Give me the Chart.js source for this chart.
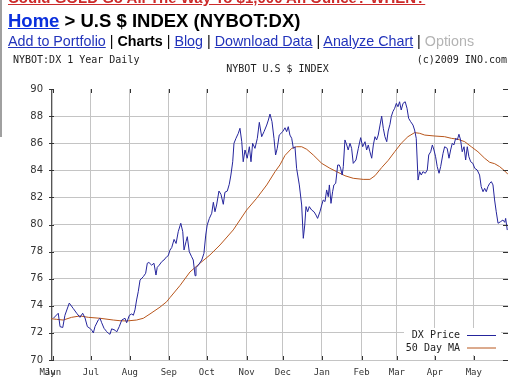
<!DOCTYPE html>
<html>
<head>
<meta charset="utf-8">
<script src="https://cdn.jsdelivr.net/npm/chart.js@4.4.1/dist/chart.umd.min.js"></script>
<style>
  html, body { margin: 0; padding: 0; background: #fff; width: 522px; height: 377px; overflow: hidden; }
  body { position: relative; font-family: "Liberation Sans", Arial, sans-serif; }
  #chart { position: absolute; left: 0; top: 0; }
  .txt { position: absolute; white-space: nowrap; z-index: 2; }
  .mono { font-family: "DejaVu Sans Mono", monospace; font-size: 10px; line-height: 10px; color: #222; }
  .lnk { color: #2233bb; text-decoration: underline; }
</style>
</head>
<body>
<div class="txt" style="left:8px;top:-10px;font-weight:bold;font-size:15px;line-height:15px;color:#cc2a2a;text-decoration:underline;">Could GOLD Go All The Way To $1,000 An Ounce? WHEN?</div>
<div style="position:absolute;left:0;top:0;width:2px;height:137px;background:#a0a0a0;"></div>
<div class="txt" style="left:8px;top:11px;font-weight:bold;font-size:18.5px;line-height:19px;color:#000;"><span style="color:#0a2fdd;text-decoration:underline;">Home</span> &gt; U.S $ INDEX (NYBOT:DX)</div>
<div class="txt" style="left:8px;top:34px;font-size:14.3px;line-height:14px;color:#000;"><span class="lnk">Add to Portfolio</span> | <b>Charts</b> | <span class="lnk">Blog</span> | <span class="lnk">Download Data</span> | <span class="lnk">Analyze Chart</span> | <span style="color:#b4b4b4;">Options</span></div>
<div class="txt mono" style="left:13px;top:55px;">NYBOT:DX 1 Year Daily</div>
<div class="txt mono" style="right:15px;top:55px;">(c)2009 INO.com</div>
<div class="txt mono" style="left:0;width:555px;text-align:center;top:64px;">NYBOT U.S $ INDEX</div>
<canvas id="chart" width="522" height="377"></canvas>
<script>
// month ticks, in trading days from 1 Jun 2008
const tickLabels = ['May', 'Jun', 'Jul', 'Aug', 'Sep', 'Oct', 'Nov', 'Dec', 'Jan', 'Feb', 'Mar', 'Apr', 'May'];
const tickDays = [-3, 0, 21, 42.5, 64, 85, 107, 127, 148.5, 170.5, 190, 211, 232.5];
const yTicks = [70, 72, 74, 76, 78, 80, 82, 84, 86, 88, 90];

// DX Price
const priceDay = [
  0.2, 2.9, 3.9, 5.4, 6.6, 9.0, 11.2, 13.1, 14.9, 16.4, 17.7, 19.0, 20.4, 21.4, 22.3, 23.2,
  25.0, 26.0, 26.9, 28.2, 29.7, 30.6, 31.5, 32.4, 34.3, 35.2, 36.6, 38.0, 39.8, 40.7, 42.2, 43.5,
  44.4, 45.3, 46.2, 47.1, 48.1, 49.9, 51.2, 52.1, 53.0, 54.5, 55.8, 56.9, 57.6, 58.7, 60.1, 61.3,
  62.8, 63.7, 64.6, 65.6, 66.9, 68.0, 69.2, 70.6, 71.7, 72.4, 73.5, 74.2, 75.3, 76.6, 77.5, 78.5,
  79.0, 80.3, 82.2, 83.4, 84.4, 85.2, 86.4, 87.7, 88.6, 89.5, 90.4, 91.7, 92.8, 94.1, 95.0, 96.3,
  97.4, 98.3, 99.3, 100.0, 101.1, 102.4, 103.3, 104.3, 105.1, 106.1, 107.3, 108.5, 109.4, 110.3, 111.6, 112.9,
  114.0, 115.3, 116.6, 118.1, 119.0, 119.9, 121.0, 122.1, 123.0, 123.9, 125.0, 126.9, 128.2, 129.1, 130.0, 130.9,
  131.9, 132.8, 133.7, 134.6, 136.1, 137.4, 138.3, 139.1, 139.8, 140.7, 141.6, 142.9, 144.2, 145.3, 146.2, 147.5,
  148.5, 149.3, 150.3, 151.2, 152.1, 152.7, 153.6, 154.5, 155.2, 156.2, 157.3, 158.2, 158.9, 159.8, 160.4, 161.3,
  162.3, 163.1, 164.1, 165.0, 165.9, 167.4, 168.7, 170.0, 171.1, 172.4, 173.3, 174.2, 175.1, 176.1, 177.0, 177.9,
  178.8, 179.7, 180.7, 181.6, 182.5, 183.4, 184.4, 185.2, 186.2, 186.9, 187.8, 188.8, 189.7, 190.6, 191.5, 192.4,
  193.4, 194.6, 195.6, 196.5, 197.6, 198.9, 199.8, 200.7, 201.7, 202.6, 203.5, 204.4, 205.7, 206.8, 207.6, 208.7,
  209.6, 210.5, 211.4, 212.3, 213.3, 214.2, 215.5, 216.4, 217.8, 218.8, 219.7, 220.6, 221.5, 222.5, 223.4, 224.3,
  225.2, 226.1, 227.1, 228.0, 228.9, 229.8, 230.8, 232.0, 233.0, 234.4, 235.7, 236.6, 237.6, 238.5, 239.4, 240.3,
  241.3, 242.2, 243.1, 244.0, 244.9, 245.9, 247.3, 248.6, 249.6, 250.1, 251.0
];
const priceVal = [
  73.08, 73.45, 72.46, 72.40, 73.30, 74.20, 73.80, 73.45, 73.15, 73.45, 73.10, 72.46, 72.34, 72.20, 72.00, 72.46,
  72.95, 73.08, 72.75, 72.34, 72.09, 71.97, 71.90, 72.30, 72.20, 72.07, 72.46, 72.95, 73.08, 72.75, 73.30, 73.40,
  73.30, 73.70, 74.43, 75.04, 75.90, 76.15, 76.40, 77.14, 77.20, 77.00, 77.14, 76.27, 76.84, 77.00, 77.26, 77.38,
  77.62, 77.70, 78.10, 78.30, 78.90, 78.60, 79.47, 80.09, 79.47, 78.12, 78.73, 79.10, 77.99, 77.62, 77.38, 76.22,
  76.81, 77.00, 77.38, 77.87, 79.22, 79.96, 80.45, 80.83, 81.64, 80.94, 81.44, 82.47, 82.23, 81.49, 82.38, 82.47,
  82.97, 83.65, 84.63, 85.99, 86.36, 86.73, 87.10, 86.11, 84.63, 85.50, 84.89, 85.74, 84.63, 85.99, 85.62, 86.36,
  87.54, 86.48, 86.85, 87.34, 87.71, 88.15, 87.59, 86.36, 85.13, 85.62, 86.60, 86.85, 87.14, 86.85, 87.22, 86.60,
  86.36, 85.62, 85.74, 84.15, 82.92, 81.44, 78.98, 79.96, 81.32, 80.94, 81.32, 81.07, 80.94, 80.70, 80.45, 80.94,
  81.44, 81.81, 81.69, 82.55, 82.05, 82.92, 81.56, 82.42, 82.92, 83.04, 84.39, 84.39, 84.15, 83.65, 84.27, 86.24,
  85.87, 85.50, 85.99, 85.62, 84.51, 84.76, 85.62, 86.41, 85.74, 86.11, 85.50, 85.87, 85.37, 84.89, 85.87, 86.48,
  86.24, 86.60, 87.34, 88.00, 87.10, 86.48, 86.11, 86.90, 87.40, 87.96, 88.33, 88.58, 88.94, 88.69, 89.06, 88.45,
  88.94, 89.06, 88.58, 87.84, 87.59, 87.34, 86.97, 86.36, 83.28, 83.90, 83.65, 83.90, 83.78, 84.02, 85.13, 85.37,
  85.87, 85.50, 85.00, 84.27, 83.78, 84.27, 85.25, 85.74, 85.62, 84.89, 85.50, 85.99, 85.87, 86.36, 86.24, 86.66,
  86.24, 85.37, 85.74, 84.76, 85.74, 85.00, 84.63, 84.51, 84.15, 84.02, 83.65, 82.79, 82.42, 82.67, 82.42, 82.79,
  83.04, 83.16, 82.92, 81.81, 80.94, 80.09, 80.21, 80.33, 80.16, 80.45, 79.59
];

// 50 Day MA
const maDay = [
  -1.0, 2.0, 5.7, 10.3, 14.9, 19.5, 26.0, 33.3, 37.0, 40.7, 46.2, 49.9, 53.6, 59.1, 62.8, 64.6,
  70.2, 75.7, 81.2, 86.7, 92.3, 99.6, 107.0, 112.5, 118.1, 122.7, 125.4, 128.2, 131.9, 134.6, 137.4, 140.2,
  143.8, 148.5, 153.0, 156.7, 161.3, 165.9, 171.4, 175.1, 177.9, 181.6, 185.2, 188.8, 192.4, 196.1, 199.8, 202.6,
  205.4, 210.9, 216.4, 220.1, 223.8, 227.5, 231.1, 234.8, 238.5, 241.3, 244.0, 246.8, 249.6, 251.4
];
const maVal = [
  73.05, 73.00, 72.95, 73.15, 73.25, 73.15, 73.08, 72.95, 72.90, 72.88, 72.95, 73.08, 73.40, 73.90, 74.30, 74.60,
  75.50, 76.50, 77.14, 77.75, 78.49, 79.60, 81.07, 81.93, 82.92, 83.90, 84.40, 85.10, 85.62, 85.74, 85.74, 85.55,
  85.13, 84.51, 84.15, 83.90, 83.60, 83.41, 83.33, 83.33, 83.60, 84.20, 84.73, 85.37, 85.99, 86.48, 86.78, 86.73,
  86.60, 86.53, 86.48, 86.36, 86.29, 86.11, 85.74, 85.37, 84.89, 84.59, 84.49, 84.27, 83.95, 83.70
];

const gridColor = '#c4c4c4';

// short dark tick marks drawn just inside the plot edges
const edgeTicks = {
  id: 'edgeTicks',
  afterDatasetsDraw(chart) {
    const { ctx, chartArea: a, scales: { x, y } } = chart;
    ctx.save();
    ctx.strokeStyle = '#333';
    ctx.lineWidth = 1;
    ctx.beginPath();
    x.ticks.forEach(t => {
      if (t.value < x.min) return;
      const px = Math.round(x.getPixelForValue(t.value)) + 0.5;
      ctx.moveTo(px, a.top); ctx.lineTo(px, a.top + 4);
      ctx.moveTo(px, a.bottom - 4); ctx.lineTo(px, a.bottom);
    });
    y.ticks.forEach(t => {
      const py = Math.round(y.getPixelForValue(t.value)) + 0.5;
      ctx.moveTo(a.left - 2, py); ctx.lineTo(a.left + 3, py);
      ctx.moveTo(a.right - 5, py); ctx.lineTo(a.right, py);
    });
    ctx.stroke();
    ctx.restore();
  }
};

// legend sits inside the plot, bottom right, on a white box
const boxLegend = {
  id: 'boxLegend',
  afterDatasetsDraw(chart) {
    const { ctx, chartArea: a } = chart;
    ctx.save();
    ctx.fillStyle = '#fff';
    ctx.fillRect(a.right - 104, a.bottom - 32, 97, 27);
    ctx.font = '10px "DejaVu Sans Mono"';
    ctx.textAlign = 'right';
    ctx.textBaseline = 'middle';
    chart.data.datasets.forEach((ds, i) => {
      const yy = a.bottom - 24.5 + i * 12.5;
      ctx.fillStyle = '#222';
      ctx.fillText(ds.label, a.right - 48, yy);
      ctx.strokeStyle = ds.borderColor;
      ctx.lineWidth = 1;
      ctx.beginPath();
      ctx.moveTo(a.right - 41, yy);
      ctx.lineTo(a.right - 12, yy);
      ctx.stroke();
    });
    ctx.restore();
  }
};

new Chart(document.getElementById('chart'), {
  type: 'line',
  data: {
    datasets: [
      {
        label: 'DX Price',
        data: priceDay.map((d, i) => ({ x: d, y: priceVal[i] })),
        borderColor: '#25259c',
        borderWidth: 1,
        pointRadius: 0,
        tension: 0,
        fill: false
      },
      {
        label: '50 Day MA',
        data: maDay.map((d, i) => ({ x: d, y: maVal[i] })),
        borderColor: '#b8561c',
        borderWidth: 1,
        pointRadius: 0,
        tension: 0,
        fill: false
      }
    ]
  },
  options: {
    responsive: false,
    animation: false,
    devicePixelRatio: 1,
    layout: { padding: { top: 89, right: 14, left: 0, bottom: 0 } },
    plugins: {
      legend: { display: false },
      tooltip: { enabled: false },
      title: { display: false }
    },
    scales: {
      x: {
        type: 'linear',
        min: -1.1,
        max: 251.4,
        afterBuildTicks: s => { s.ticks = tickDays.map(v => ({ value: v })); },
        afterFit: s => { s.height = 17; },
        grid: {
          color: c => (c.tick && c.tick.value < 0) ? 'rgba(0,0,0,0)' : gridColor,
          drawTicks: false
        },
        border: { display: false },
        ticks: {
          autoSkip: false,
          maxRotation: 0,
          minRotation: 0,
          padding: 7,
          color: '#333',
          font: { family: 'DejaVu Sans Mono', size: 9 },
          callback: (v, i) => tickLabels[i]
        }
      },
      y: {
        min: 70,
        max: 90,
        afterBuildTicks: s => { s.ticks = yTicks.map(v => ({ value: v })); },
        afterFit: s => { s.width = 51; },
        grid: {
          color: c => (c.tick && c.tick.value === 90) ? 'rgba(0,0,0,0)' : gridColor,
          drawTicks: false
        },
        border: { display: true, color: '#555' },
        ticks: {
          padding: 8,
          color: '#333',
          font: { family: 'DejaVu Sans', size: 10 }
        }
      }
    }
  },
  plugins: [boxLegend, edgeTicks]
});
</script>
</body>
</html>
